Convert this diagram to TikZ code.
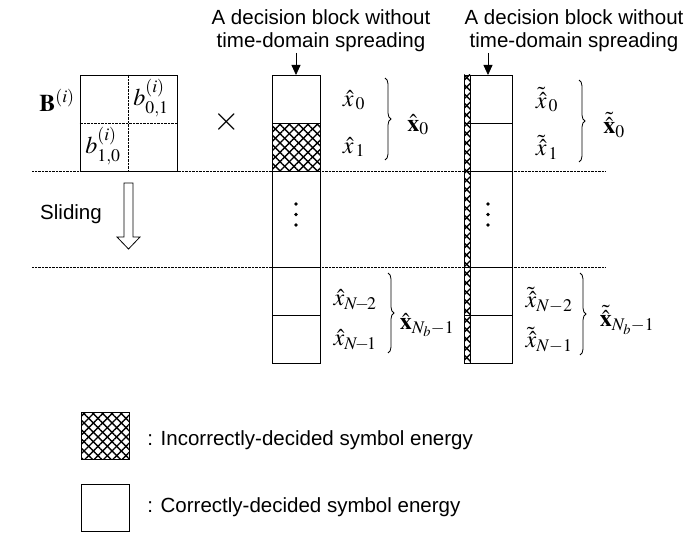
\documentclass[tikz,border=0pt]{standalone}
\usepackage{mathptmx}
\usepackage[no-math]{fontspec}
\setmainfont{Liberation Sans}
\usetikzlibrary{arrows.meta, patterns.meta, decorations.pathreplacing}

\tikzset{
  txt/.style={font=\fontsize{20.5}{23}\selectfont, inner sep=0pt, align=center},
  mth/.style={font=\fontsize{24}{26}\selectfont, inner sep=0pt},
  cell/.style={draw, thick, minimum width=48pt, minimum height=48pt, inner sep=0pt, outer sep=0pt},
  hatched/.style={postaction={pattern={Lines[angle=45, distance=6.6pt, line width=1.4pt]}},
                  postaction={pattern={Lines[angle=-45, distance=6.6pt, line width=1.4pt]}}},
  brc/.style={decorate, decoration={brace, amplitude=6pt}, thick},
  dotline/.style={densely dotted, thin}
}

\begin{document}
\begin{tikzpicture}[x=1pt, y=-1pt, line width=0.8pt]
  \useasboundingbox (0,0) rectangle (691,535);

  % 虚线分隔
  \draw[dotline] (32,171) -- (605,171);
  \draw[dotline] (32,267) -- (605,267);

  % 矩阵 B
  \node[draw, thick, fill=white, minimum width=97pt, minimum height=96pt, inner sep=0pt] (Bmat) at (128.5,123) {};
  \draw[dotline] (Bmat.north) -- (Bmat.south);
  \draw[dotline] (Bmat.west) -- (Bmat.east);
  \node[mth] (b01) at (151,98) {$b_{0,1}^{(i)}$};
  \node[mth] (b10) at (103,146) {$b_{1,0}^{(i)}$};
  \node[mth] (lblB) at (57,100) {$\mathbf{B}^{(i)}$};
  \node[txt, font=\fontsize{34}{34}\selectfont] (times) at (227,122) {$\times$};

  % 滑动
  \node[txt] (slide) at (71,214) {Sliding};
  \draw (124,183) -- (133,183) -- (133,237) -- (140,237) -- (128.5,249)
        -- (117,237) -- (124,237) -- cycle;

  % 第一列
  \node[txt] (lbl1) at (321,31) {A decision block without\\time-domain spreading};
  \node[cell, fill=white] (a0) at (296,99) {};
  \node[cell, fill=white, hatched] (a1) at (296,147) {};
  \node[cell, fill=white, minimum height=96pt] (a2) at (296,219) {};
  \node[cell, fill=white] (a3) at (296,291) {};
  \node[cell, fill=white] (a4) at (296,339) {};
  \coordinate (t1) at (296,53);
  \draw[-{Triangle[length=10pt, width=9pt]}] (t1) -- (a0.north);
  \foreach \y in {204,214.5,225} \fill (a2.center |- 0,\y) circle (1.8pt);

  \node[mth] (xa0) at (354,100) {$\hat{x}_{\,0}$};
  \node[mth] (xa1) at (354,147) {$\hat{x}_{\,1}$};
  \node[mth] (xa2) at (355,300) {$\hat{x}_{N\!-\!2}$};
  \node[mth] (xa3) at (355,340) {$\hat{x}_{N\!-\!1}$};
  \draw[brc] (385,78) -- (385,160);
  \draw[brc] (388,273) -- (388,353);
  \node[mth] (xb0) at (418,125) {$\hat{\mathbf{x}}_0$};
  \node[mth] (xb1) at (427,325) {$\hat{\mathbf{x}}_{N_b-1}$};

  % 第二列
  \node[txt] (lbl2) at (574,31) {A decision block without\\time-domain spreading};
  \node[cell, fill=white] (c0) at (488,99) {};
  \node[cell, fill=white] (c1) at (488,147) {};
  \node[cell, fill=white, minimum height=96pt] (c2) at (488,219) {};
  \node[cell, fill=white] (c3) at (488,291) {};
  \node[cell, fill=white] (c4) at (488,339) {};
  \draw[thick, hatched] (c0.north west) rectangle (470,363);
  \coordinate (t2) at (488,53);
  \draw[-{Triangle[length=10pt, width=9pt]}] (t2) -- (c0.north);
  \foreach \y in {204,214.5,225} \fill (c2.center |- 0,\y) circle (1.8pt);

  \node[mth] (ya0) at (547,100) {$\tilde{\hat{x}}_{\,0}$};
  \node[mth] (ya1) at (547,147) {$\tilde{\hat{x}}_{\,1}$};
  \node[mth] (ya2) at (549,300) {$\tilde{\hat{x}}_{N-2}$};
  \node[mth] (ya3) at (549,340) {$\tilde{\hat{x}}_{N-1}$};
  \draw[brc] (579,80) -- (579,162);
  \draw[brc] (580,273) -- (580,355);
  \node[mth] (yb0) at (614,125) {$\tilde{\hat{\mathbf{x}}}_0$};
  \node[mth] (yb1) at (627,320) {$\tilde{\hat{\mathbf{x}}}_{N_b-1}$};

  % 图例
  \node[cell, hatched, minimum height=47pt] (legA) at (105,435.5) {};
  \node[cell, minimum height=47pt] (legB) at (105,507.5) {};
  \node[txt, anchor=west] (legAt) at (147,440) {: Incorrectly-decided symbol energy};
  \node[txt, anchor=west] (legBt) at (147,507) {: Correctly-decided symbol energy};
\end{tikzpicture}
\end{document}
